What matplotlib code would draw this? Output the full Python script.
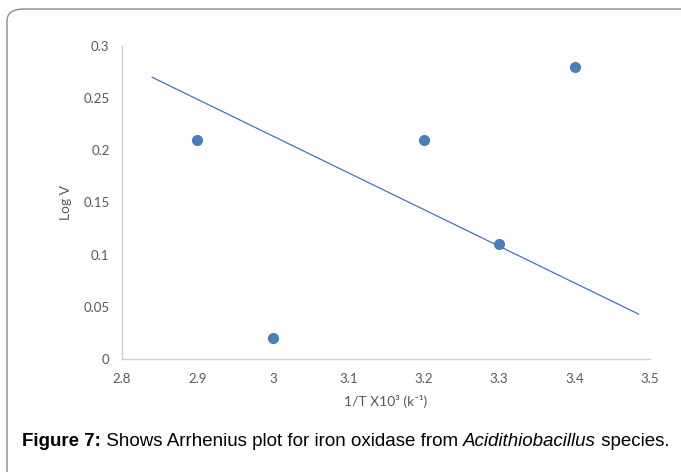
import matplotlib
matplotlib.use("Agg")
import matplotlib.pyplot as plt
from matplotlib.patches import FancyBboxPatch

# data
inv_t = [2.9, 3.0, 3.2, 3.3, 3.4]
log_v = [0.21, 0.02, 0.21, 0.11, 0.28]
trend_x = [2.84, 3.485]
trend_y = [0.27, 0.043]
x_ticks = [2.8, 2.9, 3.0, 3.1, 3.2, 3.3, 3.4, 3.5]
x_labels = ["2.8", "2.9", "3", "3.1", "3.2", "3.3", "3.4", "3.5"]
y_ticks = [0, 0.05, 0.1, 0.15, 0.2, 0.25, 0.3]
y_labels = ["0", "0.05", "0.1", "0.15", "0.2", "0.25", "0.3"]

W, H = 681, 472
fig = plt.figure(figsize=(W / 100, H / 100), dpi=100)

# rounded frame, cut off at right and bottom
frame = FancyBboxPatch((7 / W, -0.1), 1.1, 1 - 9 / H + 0.1,
                       boxstyle="round,pad=0,rounding_size=0.025",
                       transform=fig.transFigure, fill=False,
                       edgecolor="#8c8c8c", linewidth=1.0)
fig.patches.append(frame)

ax = fig.add_axes([122 / W, 1 - 359 / H, (650 - 122) / W, (359 - 46) / H])
ax.plot(trend_x, trend_y, color="#4472c4", linewidth=0.9)
ax.plot(inv_t, log_v, "o", color="#4a7ebb", markersize=7)

ax.set_xlim(2.8, 3.5)
ax.set_ylim(0, 0.3)
ax.set_xticks(x_ticks, x_labels)
ax.set_yticks(y_ticks, y_labels)
ax.tick_params(length=0, labelsize=9.5, labelcolor="#595959")
ax.tick_params(axis="x", pad=10)
ax.tick_params(axis="y", pad=9)
for lab in ax.get_xticklabels() + ax.get_yticklabels():
    lab.set_family("Lato")
for side in ["top", "right"]:
    ax.spines[side].set_visible(False)
for side in ["left", "bottom"]:
    ax.spines[side].set_color("#d0d0d0")
    ax.spines[side].set_linewidth(1.0)

ax.set_ylabel("Log V", fontsize=10, color="#595959", family="Lato", labelpad=8)
ax.set_xlabel("1/T X10³ (k⁻¹)", fontsize=10, color="#595959",
              family=["Lato", "DejaVu Sans"], labelpad=7)

# caption with mixed styles
pieces = [("Figure 7:", "bold", "normal"),
          (" Shows Arrhenius plot for iron oxidase from ", "normal", "normal"),
          ("Acidithiobacillus", "normal", "italic"),
          (" species.", "normal", "normal")]
fig.canvas.draw()
renderer = fig.canvas.get_renderer()
x = 22
for txt, weight, style in pieces:
    t = fig.text(x / W, 1 - 442 / H, txt, fontsize=13.5, weight=weight,
                 style=style, family="Liberation Sans", va="center", ha="left")
    bb = t.get_window_extent(renderer)
    x += bb.width

fig.savefig("out.png", dpi=100)
